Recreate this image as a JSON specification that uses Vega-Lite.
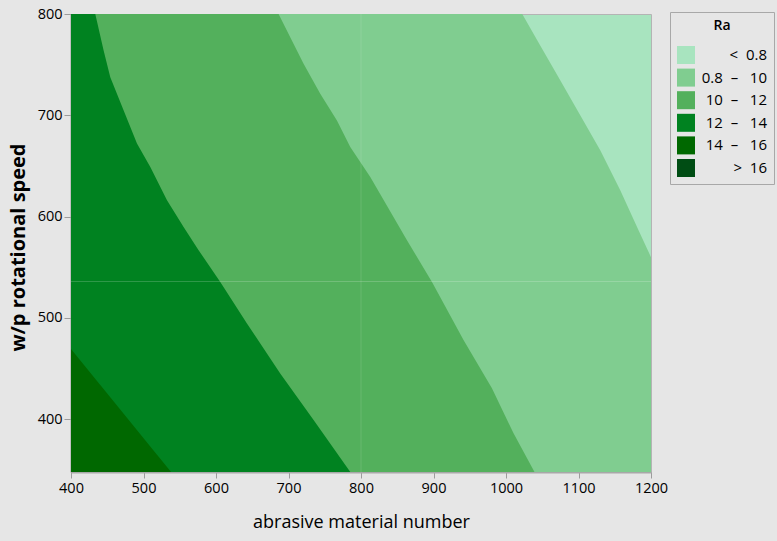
{
  "$schema": "https://vega.github.io/schema/vega-lite/v6.json",
  "autosize": "none",
  "width": 580,
  "height": 458,
  "padding": {"left": 71, "top": 14, "right": 126, "bottom": 69},
  "background": "#e6e6e6",
  "config": {
    "font": "Open Sans",
    "view": {"fill": "#a8e4bf", "stroke": "#b4b4b4", "strokeWidth": 1}
  },
  "datasets": {
    "bands": [
      {"band": "0.8\u00a0\u00a0–\u00a0\u00a0\u00a010", "speed": 348, "number": 1200},
      {"band": "0.8\u00a0\u00a0–\u00a0\u00a0\u00a010", "speed": 560, "number": 1200},
      {"band": "0.8\u00a0\u00a0–\u00a0\u00a0\u00a010", "speed": 586.6, "number": 1182.8},
      {"band": "0.8\u00a0\u00a0–\u00a0\u00a0\u00a010", "speed": 626, "number": 1157.6},
      {"band": "0.8\u00a0\u00a0–\u00a0\u00a0\u00a010", "speed": 665.5, "number": 1130},
      {"band": "0.8\u00a0\u00a0–\u00a0\u00a0\u00a010", "speed": 700, "number": 1102.4},
      {"band": "0.8\u00a0\u00a0–\u00a0\u00a0\u00a010", "speed": 734.5, "number": 1074.8},
      {"band": "0.8\u00a0\u00a0–\u00a0\u00a0\u00a010", "speed": 768.9, "number": 1047.2},
      {"band": "0.8\u00a0\u00a0–\u00a0\u00a0\u00a010", "speed": 800, "number": 1022.4},

      {"band": "10\u00a0\u00a0–\u00a0\u00a0\u00a012", "speed": 348, "number": 1039.3},
      {"band": "10\u00a0\u00a0–\u00a0\u00a0\u00a012", "speed": 386.2, "number": 1010.4},
      {"band": "10\u00a0\u00a0–\u00a0\u00a0\u00a012", "speed": 430.6, "number": 980.6},
      {"band": "10\u00a0\u00a0–\u00a0\u00a0\u00a012", "speed": 478.2, "number": 941.4},
      {"band": "10\u00a0\u00a0–\u00a0\u00a0\u00a012", "speed": 535.6, "number": 897.9},
      {"band": "10\u00a0\u00a0–\u00a0\u00a0\u00a012", "speed": 576.7, "number": 863.4},
      {"band": "10\u00a0\u00a0–\u00a0\u00a0\u00a012", "speed": 639.1, "number": 812.8},
      {"band": "10\u00a0\u00a0–\u00a0\u00a0\u00a012", "speed": 668.7, "number": 785.2},
      {"band": "10\u00a0\u00a0–\u00a0\u00a0\u00a012", "speed": 695.0, "number": 766.8},
      {"band": "10\u00a0\u00a0–\u00a0\u00a0\u00a012", "speed": 721.3, "number": 743.8},
      {"band": "10\u00a0\u00a0–\u00a0\u00a0\u00a012", "speed": 750.9, "number": 720.8},
      {"band": "10\u00a0\u00a0–\u00a0\u00a0\u00a012", "speed": 777.1, "number": 702.4},
      {"band": "10\u00a0\u00a0–\u00a0\u00a0\u00a012", "speed": 800, "number": 686.3},

      {"band": "12\u00a0\u00a0–\u00a0\u00a0\u00a014", "speed": 348, "number": 785.2},
      {"band": "12\u00a0\u00a0–\u00a0\u00a0\u00a014", "speed": 399.3, "number": 734.6},
      {"band": "12\u00a0\u00a0–\u00a0\u00a0\u00a014", "speed": 445.3, "number": 688.6},
      {"band": "12\u00a0\u00a0–\u00a0\u00a0\u00a014", "speed": 494.6, "number": 642.7},
      {"band": "12\u00a0\u00a0–\u00a0\u00a0\u00a014", "speed": 535.6, "number": 605.9},
      {"band": "12\u00a0\u00a0–\u00a0\u00a0\u00a014", "speed": 566.9, "number": 576.0},
      {"band": "12\u00a0\u00a0–\u00a0\u00a0\u00a014", "speed": 589.8, "number": 555.3},
      {"band": "12\u00a0\u00a0–\u00a0\u00a0\u00a014", "speed": 616.2, "number": 532.4},
      {"band": "12\u00a0\u00a0–\u00a0\u00a0\u00a014", "speed": 649.0, "number": 509.4},
      {"band": "12\u00a0\u00a0–\u00a0\u00a0\u00a014", "speed": 672.1, "number": 491.0},
      {"band": "12\u00a0\u00a0–\u00a0\u00a0\u00a014", "speed": 704.9, "number": 472.5},
      {"band": "12\u00a0\u00a0–\u00a0\u00a0\u00a014", "speed": 737.7, "number": 454.2},
      {"band": "12\u00a0\u00a0–\u00a0\u00a0\u00a014", "speed": 764.0, "number": 445.0},
      {"band": "12\u00a0\u00a0–\u00a0\u00a0\u00a014", "speed": 800, "number": 433.5},

      {"band": "14\u00a0\u00a0–\u00a0\u00a0\u00a016", "speed": 348, "number": 538},
      {"band": "14\u00a0\u00a0–\u00a0\u00a0\u00a016", "speed": 469.3, "number": 400}
    ],
    "seams": [
      {"axis": "x", "value": 800},
      {"axis": "y", "value": 536}
    ]
  },
  "encoding": {
    "x": {
      "type": "quantitative",
      "scale": {"domain": [400, 1200], "nice": false, "zero": false},
      "axis": {
        "title": "abrasive material number",
        "values": [400, 500, 600, 700, 800, 900, 1000, 1100, 1200],
        "format": "d",
        "grid": false,
        "labelFlush": false,
        "labelFontSize": 14.5,
        "labelColor": "#000000",
        "labelPadding": 3,
        "tickSize": 6,
        "tickColor": "#9c9c9c",
        "domainColor": "#a8a8a8",
        "domainWidth": 2,
        "titleFontSize": 18,
        "titleFontWeight": "normal",
        "titleColor": "#000000",
        "titleY": 50,
        "titleBaseline": "middle"
      }
    },
    "y": {
      "type": "quantitative",
      "scale": {"domain": [348, 800], "nice": false, "zero": false},
      "axis": {
        "title": "w/p rotational speed",
        "values": [400, 500, 600, 700, 800],
        "format": "d",
        "grid": false,
        "labelFlush": false,
        "labelFontSize": 14.5,
        "labelColor": "#000000",
        "labelPadding": 2,
        "tickSize": 7,
        "tickColor": "#9c9c9c",
        "domainColor": "#9c9c9c",
        "domainWidth": 2,
        "titleFontSize": 20,
        "titleFontWeight": "bold",
        "titleColor": "#000000",
        "titleAngle": -90,
        "titleX": -53,
        "titleY": 233,
        "titleAlign": "center",
        "titleBaseline": "middle"
      }
    }
  },
  "layer": [
    {
      "data": {"name": "bands"},
      "transform": [{"filter": "datum.band === '0.8\u00a0\u00a0–\u00a0\u00a0\u00a010'"}],
      "mark": {"type": "area", "orient": "horizontal", "clip": true},
      "encoding": {
        "y": {"field": "speed", "type": "quantitative"},
        "x": {"field": "number", "type": "quantitative", "stack": null},
        "x2": {"datum": 400},
        "color": {
          "field": "band",
          "type": "nominal",
          "scale": {
            "domain": [
              "<\u00a0\u00a00.8",
              "0.8\u00a0\u00a0–\u00a0\u00a0\u00a010",
              "10\u00a0\u00a0–\u00a0\u00a0\u00a012",
              "12\u00a0\u00a0–\u00a0\u00a0\u00a014",
              "14\u00a0\u00a0–\u00a0\u00a0\u00a016",
              ">\u00a0\u00a016"
            ],
            "range": ["#a8e4bf", "#80cd90", "#53b05c", "#008220", "#006800", "#004d14"]
          },
          "legend": {
            "title": "Ra",
            "orient": "none",
            "legendX": 599,
            "legendY": -2,
            "padding": 7,
            "strokeColor": "#a8a8a8",
            "fillColor": "#e6e6e6",
            "titleFontSize": 14,
            "titleFontWeight": 600,
            "titleColor": "#000000",
            "titleAnchor": "middle",
            "titleAlign": "center",
            "titlePadding": 13,
            "symbolType": "square",
            "symbolSize": 324,
            "symbolStrokeWidth": 0,
            "symbolOpacity": 1,
            "rowPadding": 4.6,
            "labelFontSize": 15,
            "labelColor": "#000000",
            "labelAlign": "right",
            "labelOffset": 72
          }
        }
      }
    },
    {
      "data": {"name": "bands"},
      "transform": [{"filter": "datum.band === '10\u00a0\u00a0–\u00a0\u00a0\u00a012'"}],
      "mark": {"type": "area", "orient": "horizontal", "clip": true},
      "encoding": {
        "y": {"field": "speed", "type": "quantitative"},
        "x": {"field": "number", "type": "quantitative", "stack": null},
        "x2": {"datum": 400},
        "color": {"field": "band", "type": "nominal"}
      }
    },
    {
      "data": {"name": "bands"},
      "transform": [{"filter": "datum.band === '12\u00a0\u00a0–\u00a0\u00a0\u00a014'"}],
      "mark": {"type": "area", "orient": "horizontal", "clip": true},
      "encoding": {
        "y": {"field": "speed", "type": "quantitative"},
        "x": {"field": "number", "type": "quantitative", "stack": null},
        "x2": {"datum": 400},
        "color": {"field": "band", "type": "nominal"}
      }
    },
    {
      "data": {"name": "bands"},
      "transform": [{"filter": "datum.band === '14\u00a0\u00a0–\u00a0\u00a0\u00a016'"}],
      "mark": {"type": "area", "orient": "horizontal", "clip": true},
      "encoding": {
        "y": {"field": "speed", "type": "quantitative"},
        "x": {"field": "number", "type": "quantitative", "stack": null},
        "x2": {"datum": 400},
        "color": {"field": "band", "type": "nominal"}
      }
    },
    {
      "data": {"name": "seams"},
      "transform": [{"filter": "datum.axis === 'x'"}],
      "mark": {"type": "rule", "color": "#ffffff", "opacity": 0.12, "strokeWidth": 1},
      "encoding": {"x": {"field": "value", "type": "quantitative"}}
    },
    {
      "data": {"name": "seams"},
      "transform": [{"filter": "datum.axis === 'y'"}],
      "mark": {"type": "rule", "color": "#ffffff", "opacity": 0.18, "strokeWidth": 1},
      "encoding": {"y": {"field": "value", "type": "quantitative"}}
    }
  ]
}
